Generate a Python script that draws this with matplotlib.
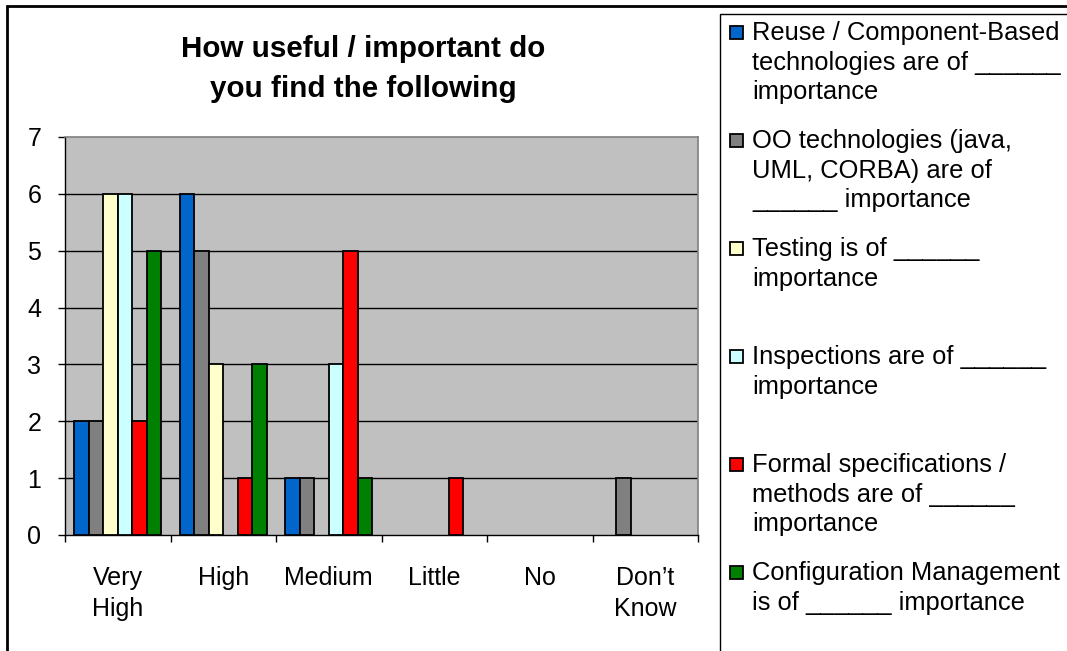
import numpy as np
import matplotlib
matplotlib.use("Agg")
import matplotlib.pyplot as plt
from matplotlib.patches import Rectangle

# data
categories = ["Very\nHigh", "High", "Medium", "Little", "No", "Don\u2019t\nKnow"]
series_labels = [
    "Reuse / Component-Based\ntechnologies are of ______\nimportance",
    "OO technologies (java,\nUML, CORBA) are of\n______ importance",
    "Testing is of ______\nimportance",
    "Inspections are of ______\nimportance",
    "Formal specifications /\nmethods are of ______\nimportance",
    "Configuration Management\nis of ______ importance",
]
reuse = [2, 6, 1, 0, 0, 0]
oo_tech = [2, 5, 1, 0, 0, 1]
testing = [6, 3, 0, 0, 0, 0]
inspections = [6, 0, 3, 0, 0, 0]
formal = [2, 1, 5, 1, 0, 0]
config_mgmt = [5, 3, 1, 0, 0, 0]
yticks = [0, 1, 2, 3, 4, 5, 6, 7]

series_values = [reuse, oo_tech, testing, inspections, formal, config_mgmt]
colors = ["#0066CC", "#808080", "#FFFFCC", "#CCFFFF", "#FF0000", "#008000"]

plt.rcParams['font.family'] = ['Liberation Sans', 'DejaVu Sans']

W, H = 1067, 651
fig = plt.figure(figsize=(W / 100, H / 100), dpi=100)
fig.patch.set_facecolor("white")

# rectangles given in pixel coords (top-left origin)
def px_rect(x0, y0, x1, y1, **kw):
    return Rectangle((x0 / W, 1 - y1 / H), (x1 - x0) / W, (y1 - y0) / H,
                     transform=fig.transFigure, **kw)

# outer chart frame and legend box
fig.patches.append(px_rect(7, 6, W + 10, H + 10, fill=False, lw=2, ec="black"))
fig.patches.append(px_rect(720, 14, W + 10, H + 10, fill=True, fc="white", lw=1, ec="black"))

# plot area
ax = fig.add_axes([65 / W, 1 - 535 / H, (698 - 65) / W, (535 - 137) / H])
ax.set_facecolor("#C0C0C0")

x = np.arange(len(categories))
n = len(series_values)
width = 0.137
for i, (vals, col) in enumerate(zip(series_values, colors)):
    offs = (i - (n - 1) / 2) * width
    lws = [1.3 if v > 0 else 0 for v in vals]  # empty bars leave no outline
    ax.bar(x + offs, vals, width=width, color=col, edgecolor="black",
           linewidth=lws, zorder=3)

ax.set_xlim(-0.5, len(categories) - 0.5)
ax.set_ylim(0, 7)
ax.set_yticks(yticks)
ax.set_yticklabels([str(t) for t in yticks], fontsize=18)
for t in yticks[1:-1]:
    ax.axhline(t, color="black", lw=1, zorder=1)

ax.set_xticks(x)
ax.set_xticklabels(categories, fontsize=18, linespacing=1.4)
ax.set_xticks(np.arange(-0.5, len(categories)), minor=True)
ax.tick_params(axis="x", which="major", length=0, pad=22)
ax.tick_params(axis="x", which="minor", length=5, width=1, direction="out")
ax.tick_params(axis="y", length=5, width=1, direction="out", pad=12)

for side in ["top", "right"]:
    ax.spines[side].set_color("#808080")
    ax.spines[side].set_linewidth(1.2)
for side in ["left", "bottom"]:
    ax.spines[side].set_color("black")
    ax.spines[side].set_linewidth(1)

# title
fig.text(363 / W, 1 - 69 / H, "How useful / important do\nyou find the following",
         ha="center", va="center", fontsize=21.3, fontweight="bold", linespacing=1.55)

# legend, one evenly spaced slot per series like the original
first_y = 33
slot = 108
for i, (lab, col) in enumerate(zip(series_labels, colors)):
    yc = first_y + i * slot
    fig.patches.append(px_rect(730, yc - 7, 743, yc + 6, fc=col, ec="black", lw=1.3))
    fig.text(752 / W, 1 - (yc - 12) / H, lab, ha="left", va="top",
             fontsize=18.4, linespacing=1.3)

fig.savefig("out.png", dpi=100)
